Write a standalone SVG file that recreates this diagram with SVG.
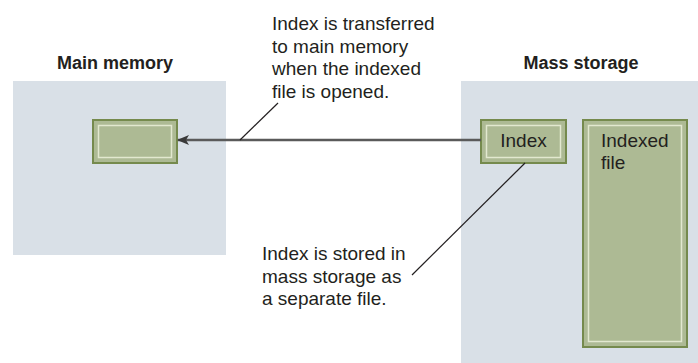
<svg xmlns="http://www.w3.org/2000/svg" width="698" height="363" viewBox="0 0 698 363">
<defs>
<style>
.area{fill:#d9e0e7;}
.box{fill:#adba94;stroke:#758a4d;stroke-width:2;}
.inner{fill:none;stroke:#e2e8cf;stroke-width:1.5;}
.title{font-family:"Liberation Sans",Arial,sans-serif;font-weight:bold;font-size:18px;fill:#231f20;text-anchor:middle;}
.txt{font-family:"Liberation Sans",Arial,sans-serif;font-size:19px;fill:#231f20;}
.lead{stroke:#231f20;stroke-width:1.2;fill:none;}
.conn{stroke:#5a5a5a;stroke-width:2.5;fill:none;}
</style>
<marker id="ah" markerWidth="12" markerHeight="10" refX="11" refY="5" orient="auto" markerUnits="userSpaceOnUse">
<path d="M0,0 L12,5 L0,10 L3,5 Z" fill="#3a3a3a"/>
</marker>
</defs>
<rect width="698" height="363" fill="#ffffff"/>
<g id="main-memory">
<rect class="area" x="13" y="81" width="213" height="174"/>
<text class="title" x="115" y="69">Main memory</text>
</g>
<g id="mass-storage">
<rect class="area" x="461" y="81" width="237" height="282"/>
<text class="title" x="581" y="69">Mass storage</text>
</g>
<g id="index-copy">
<rect class="box" x="93" y="120" width="84" height="43"/>
<rect class="inner" x="98.5" y="125.5" width="73" height="32"/>
</g>
<g id="index">
<rect class="box" x="481" y="120" width="85" height="43"/>
<rect class="inner" x="486.5" y="125.5" width="74" height="32"/>
<text class="txt" x="523.5" y="147" text-anchor="middle">Index</text>
</g>
<g id="indexed-file">
<rect class="box" x="583" y="120" width="104" height="227"/>
<rect class="inner" x="588.5" y="125.5" width="93" height="216"/>
<text class="txt" x="601" y="147">Indexed</text>
<text class="txt" x="601" y="169">file</text>
</g>
<g id="note-transfer">
<text class="txt" x="272" y="30">Index is transferred</text>
<text class="txt" x="272" y="52.5">to main memory</text>
<text class="txt" x="272" y="75">when the indexed</text>
<text class="txt" x="272" y="97.5">file is opened.</text>
</g>
<g id="note-stored">
<text class="txt" x="262" y="260">Index is stored in</text>
<text class="txt" x="262" y="283">mass storage as</text>
<text class="txt" x="262" y="305">a separate file.</text>
</g>
<g id="connectors">
<line class="conn" x1="481" y1="140" x2="178" y2="140" marker-end="url(#ah)"/>
<line class="lead" x1="278" y1="103" x2="240" y2="140"/>
<line class="lead" x1="412" y1="275" x2="525" y2="163"/>
</g>
</svg>
